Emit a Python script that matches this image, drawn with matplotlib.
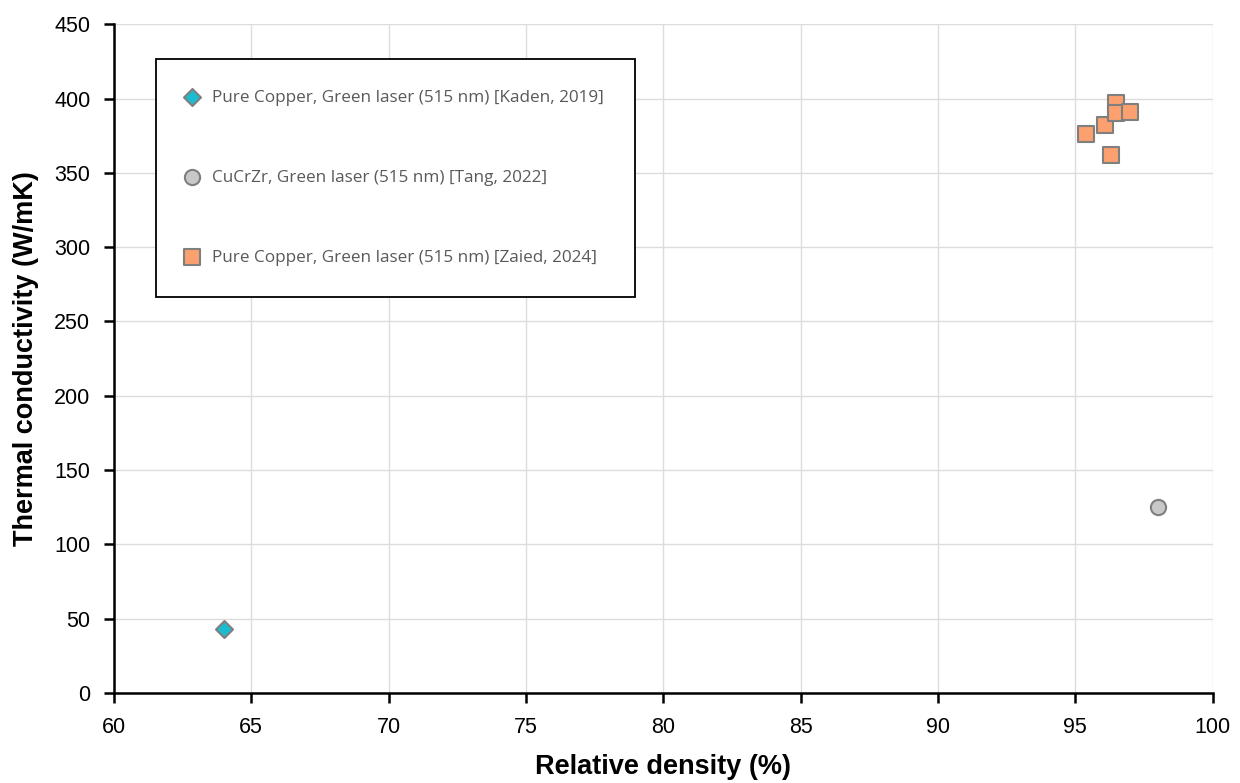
import matplotlib
matplotlib.use("Agg")
import matplotlib.pyplot as plt

# relative density (%) vs thermal conductivity (W/mK)
kaden_x = [64.0]
kaden_y = [43]
tang_x = [98.0]
tang_y = [125]
zaied_x = [95.4, 96.1, 96.3, 96.5, 96.5, 97.0]
zaied_y = [376, 382, 362, 397, 390, 391]

labels = ['Pure Copper, Green laser (515 nm) [Kaden, 2019]',
          'CuCrZr, Green laser (515 nm) [Tang, 2022]',
          'Pure Copper, Green laser (515 nm) [Zaied, 2024]']

xticks = list(range(60, 101, 5))
yticks = list(range(0, 451, 50))

plt.rcParams['font.family'] = ['Liberation Sans', 'DejaVu Sans']

fig = plt.figure(figsize=(12.4, 7.83), dpi=100)
ax = fig.add_axes([0.0919, 0.115, 0.886, 0.854])

edge = '#7f7f7f'
ax.scatter(kaden_x, kaden_y, marker='D', s=75, color='#1cbcd0', edgecolors=edge, linewidths=1.5, zorder=3, label=labels[0])
ax.scatter(tang_x, tang_y, marker='o', s=120, color='#c8c8c8', edgecolors=edge, linewidths=1.5, zorder=3, label=labels[1])
ax.scatter(zaied_x, zaied_y, marker='s', s=120, color='#fba06e', edgecolors=edge, linewidths=1.5, zorder=3, label=labels[2])

ax.set_xlim(60, 100)
ax.set_ylim(0, 450)
ax.set_xticks(xticks)
ax.set_yticks(yticks)
ax.grid(True, color='#dcdcdc', linewidth=1)
ax.set_axisbelow(True)
for s in ['top', 'right']:
    ax.spines[s].set_visible(False)
for s in ['left', 'bottom']:
    ax.spines[s].set_linewidth(1.8)
ax.tick_params(direction='out', length=7, width=1.8, labelsize=15.5, pad=10)

ax.set_xlabel('Relative density (%)', fontsize=19.5, fontweight='bold', labelpad=12)
ax.set_ylabel('Thermal conductivity (W/mK)', fontsize=19.5, fontweight='bold', labelpad=11)

leg = ax.legend(loc='upper left', bbox_to_anchor=(0.038, 0.948), frameon=True, fancybox=False,
                edgecolor='black', framealpha=1, labelspacing=3.75,
                borderpad=1.8, handlelength=0.6, handletextpad=0.9, borderaxespad=0,
                prop={'family': ['Open Sans', 'DejaVu Sans'], 'size': 12.3})
leg.get_frame().set_linewidth(1.3)
for t in leg.get_texts():
    t.set_color('#595959')

fig.savefig('out.png', dpi=100)
